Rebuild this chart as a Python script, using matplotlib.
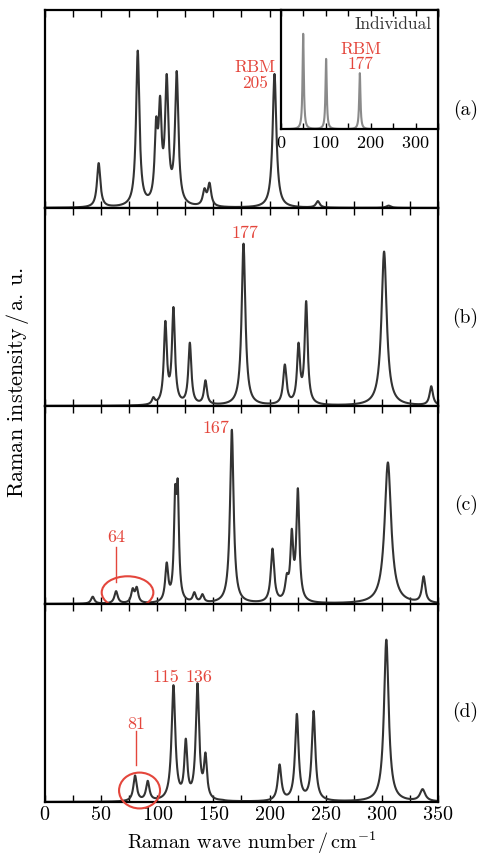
import numpy as np
import matplotlib.pyplot as plt
from matplotlib.patches import Ellipse
from matplotlib.ticker import MultipleLocator

plt.rcParams['font.family'] = ['cmr10', 'DejaVu Serif']
plt.rcParams['mathtext.fontset'] = 'cm'
plt.rcParams['axes.formatter.use_mathtext'] = True

# peak centres / cm^-1, peak heights (a. u.) and half widths of every spectrum
pos_a = [47.8, 82.6, 99.0, 102.5, 108.4, 117.3, 142.0, 146.5, 204.4, 243.0, 306.0]
hgt_a = [0.227, 0.795, 0.46, 0.567, 0.677, 0.692, 0.10, 0.128, 0.677, 0.035, 0.012]
wid_a = [1.8, 1.8, 1.6, 1.6, 1.8, 1.8, 1.8, 1.8, 2.0, 2.0, 2.5]

pos_b = [96.5, 107.2, 114.4, 129.0, 142.9, 176.8, 213.6, 225.8, 232.6, 302.0, 344.0]
hgt_b = [0.045, 0.43, 0.50, 0.32, 0.13, 0.82, 0.21, 0.32, 0.53, 0.78, 0.10]
wid_b = [1.5, 1.6, 1.6, 1.6, 1.6, 2.0, 1.8, 1.6, 1.6, 2.8, 1.8]

pos_c = [42.5, 63.3, 78.1, 81.7, 108.4, 115.9, 118.2, 133.0, 140.2, 166.4,
         202.6, 215.4, 219.8, 225.2, 305.4, 337.2]
hgt_c = [0.037, 0.065, 0.08, 0.087, 0.21, 0.60, 0.63, 0.06, 0.05, 0.88,
         0.28, 0.155, 0.38, 0.585, 0.715, 0.14]
wid_c = [1.8, 1.8, 1.6, 1.6, 1.6, 1.3, 1.3, 1.6, 1.6, 1.9,
         1.8, 1.8, 1.5, 1.6, 3.5, 1.8]

pos_d = [80.2, 91.5, 114.4, 125.4, 135.8, 142.9, 157.5, 208.9, 224.3, 239.2, 304.0, 336.3]
hgt_d = [0.134, 0.107, 0.59, 0.32, 0.60, 0.25, 0.012, 0.19, 0.445, 0.46, 0.82, 0.065]
wid_d = [1.8, 1.8, 2.0, 1.6, 1.8, 1.6, 2.0, 1.9, 1.9, 1.9, 2.5, 2.8]

# isolated molecule (inset)
pos_ind = [50.0, 101.0, 176.0]
hgt_ind = [0.80, 0.59, 0.47]
wid_ind = [1.7, 1.7, 1.7]

panel_names = ['(a)', '(b)', '(c)', '(d)']
panel_label_y = [0.8715, 0.6285, 0.41, 0.1682]

red = '#e4463c'
line_col = '#333333'


def spectrum(x, pos, hgt, wid):
    pos, hgt, wid = np.asarray(pos), np.asarray(hgt), np.asarray(wid)

    def lor(xx):
        return wid**2 / ((np.asarray(xx)[:, None] - pos)**2 + wid**2)

    # amplitudes chosen so the summed curve reaches hgt at every centre
    amp = np.clip(np.linalg.solve(lor(pos), hgt), 0, None)
    return lor(x) @ amp


x = np.linspace(0, 350, 3501)
fig = plt.figure(figsize=(4.86, 8.56), dpi=100)

left, width, h = 0.0926, 0.8086, 0.2313
bottoms = [0.757, 0.5257, 0.2944, 0.0631]
data = [(pos_a, hgt_a, wid_a), (pos_b, hgt_b, wid_b),
        (pos_c, hgt_c, wid_c), (pos_d, hgt_d, wid_d)]

axs = []
for i, (b, (p, hh, w)) in enumerate(zip(bottoms, data)):
    ax = fig.add_axes([left, b, width, h])
    ax.plot(x, spectrum(x, p, hh, w), color=line_col, lw=1.5)
    ax.set_xlim(0, 350)
    ax.set_ylim(0, 1)
    ax.set_yticks([])
    ax.xaxis.set_major_locator(MultipleLocator(50))
    ax.xaxis.set_minor_locator(MultipleLocator(25))
    ax.tick_params(axis='x', which='both', direction='in', top=True,
                   length=5, width=1, labelsize=14.5, pad=3)
    if i < 3:
        ax.tick_params(axis='x', labelbottom=False)
    for s in ax.spines.values():
        s.set_linewidth(1.6)
    fig.text(0.958, panel_label_y[i], panel_names[i], fontsize=14,
             ha='center', va='center')
    axs.append(ax)

ax_a, ax_b, ax_c, ax_d = axs

# labels of the main peaks
ax_a.text(187, 0.67, 'RBM\n205', color=red, fontsize=12.5, ha='center',
          va='center', linespacing=1.0)
ax_b.text(178, 0.872, '177', color=red, fontsize=13, ha='center', va='center')
ax_c.text(152, 0.887, '167', color=red, fontsize=13, ha='center', va='center')
ax_c.text(63.2, 0.335, '64', color=red, fontsize=13, ha='center', va='center')
ax_c.plot([63.2, 63.2], [0.29, 0.111], color=red, lw=1)
ax_c.add_patch(Ellipse((73.5, 0.058), 46, 0.164, fill=False, ec=red,
                       lw=1.5, clip_on=False, zorder=5))
ax_d.text(107.8, 0.631, '115', color=red, fontsize=13, ha='center', va='center')
ax_d.text(137.1, 0.631, '136', color=red, fontsize=13, ha='center', va='center')
ax_d.text(80.8, 0.394, '81', color=red, fontsize=13, ha='center', va='center')
ax_d.plot([80.8, 80.8], [0.357, 0.188], color=red, lw=1)
ax_d.add_patch(Ellipse((84.2, 0.058), 36.5, 0.181, fill=False, ec=red,
                       lw=1.5, clip_on=False, zorder=5))

fig.text(left + width / 2 + 0.02, 0.0082,
         r'Raman wave number$\,/\,$cm$^{-1}$', fontsize=14.5,
         ha='center', va='baseline')
fig.text(0.037, 0.553, r'Raman instensity$\,/\,$a. u.', fontsize=16,
         rotation=90, ha='center', va='center')

# inset: single molecule spectrum
ins = fig.add_axes([0.5776, 0.849, 0.3237, 0.1394])
ins.plot(x, spectrum(x, pos_ind, hgt_ind, wid_ind), color='#8a8a8a', lw=1.5)
ins.set_xlim(0, 350)
ins.set_ylim(0, 1)
ins.set_yticks([])
ins.xaxis.set_major_locator(MultipleLocator(100))
ins.xaxis.set_minor_locator(MultipleLocator(50))
ins.tick_params(axis='x', which='both', direction='in', top=True,
                length=4, width=1, labelsize=13, pad=4)
for s in ins.spines.values():
    s.set_linewidth(1.6)
ins.text(336, 0.883, 'Individual', color='#333333', fontsize=12.5,
         ha='right', va='center')
ins.text(178, 0.606, 'RBM\n177', color=red, fontsize=12.5, ha='center',
         va='center', linespacing=1.0)

fig.savefig('out.png', dpi=100)
